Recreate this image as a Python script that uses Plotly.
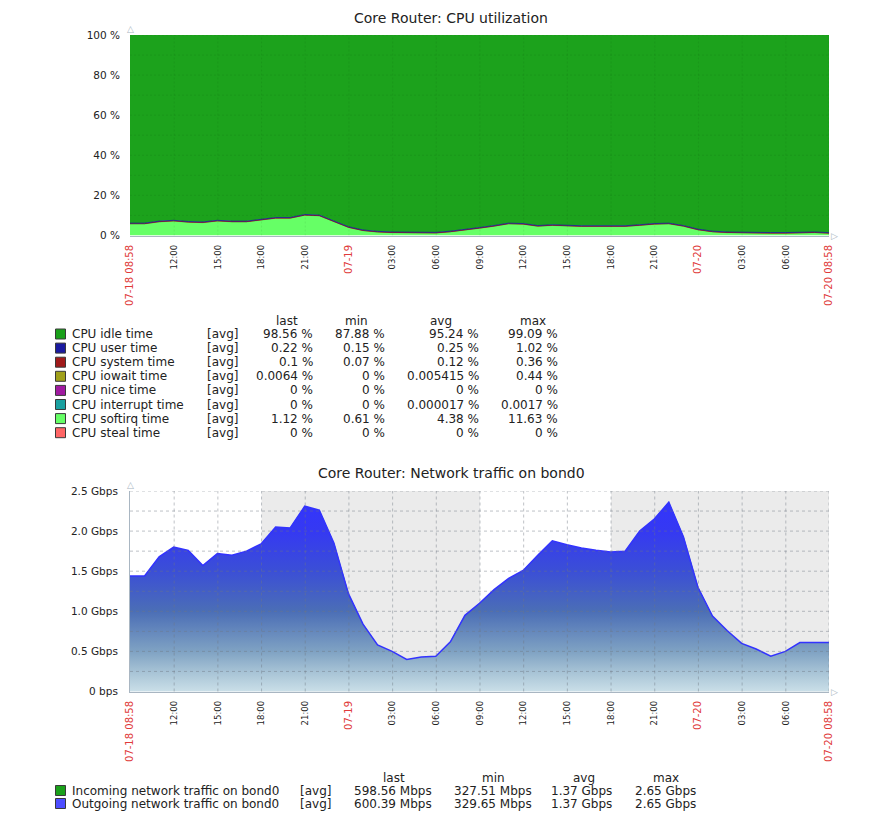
"""
Zabbix-style dashboard: Core Router CPU utilization and bond0 traffic
"""

import pandas as pd
import plotly.graph_objects as go

W, H = 891, 831
FONT = "DejaVu Sans"
TEXT = "#222222"

# hourly averages, 07-18 08:58 .. 07-20 08:58
times = pd.date_range("2024-07-18 08:58", periods=49, freq="h")

# CPU utilization (%)
cpu_softirq = [5.8, 5.8, 6.8, 7.2, 6.6, 6.4, 7.2, 6.8, 6.8, 7.6,
               8.6, 8.6, 10.1, 9.8, 6.8, 4.0, 2.4, 1.7, 1.4, 1.3,
               1.2, 1.2, 1.8, 2.6, 3.6, 4.6, 5.8, 5.6, 4.6, 5.0,
               4.6, 4.5, 4.5, 4.5, 4.5, 5.0, 5.6, 5.8, 4.6, 2.8,
               1.8, 1.4, 1.2, 1.1, 1.1, 1.1, 1.4, 1.4, 1.1]
cpu_system = [0.12, 0.12, 0.12, 0.12, 0.12, 0.12, 0.12, 0.12, 0.12, 0.12,
              0.12, 0.12, 0.12, 0.12, 0.12, 0.12, 0.12, 0.12, 0.12, 0.12,
              0.12, 0.12, 0.12, 0.12, 0.12, 0.12, 0.12, 0.12, 0.12, 0.12,
              0.12, 0.12, 0.12, 0.12, 0.12, 0.12, 0.12, 0.12, 0.12, 0.12,
              0.12, 0.12, 0.12, 0.12, 0.12, 0.12, 0.12, 0.12, 0.10]
cpu_user = [0.25, 0.25, 0.25, 0.25, 0.25, 0.25, 0.25, 0.25, 0.25, 0.25,
            0.25, 0.25, 0.25, 0.25, 0.25, 0.25, 0.25, 0.25, 0.25, 0.25,
            0.25, 0.25, 0.25, 0.25, 0.25, 0.25, 0.25, 0.25, 0.25, 0.25,
            0.25, 0.25, 0.25, 0.25, 0.25, 0.25, 0.25, 0.25, 0.25, 0.25,
            0.25, 0.25, 0.25, 0.25, 0.25, 0.25, 0.25, 0.25, 0.22]
cpu_idle = [93.83, 93.83, 92.83, 92.43, 93.03, 93.23, 92.43, 92.83, 92.83, 92.03,
            91.03, 91.03, 89.53, 89.83, 92.83, 95.63, 97.23, 97.93, 98.23, 98.33,
            98.43, 98.43, 97.83, 97.03, 96.03, 95.03, 93.83, 94.03, 95.03, 94.63,
            95.03, 95.13, 95.13, 95.13, 95.13, 94.63, 94.03, 93.83, 95.03, 96.83,
            97.83, 98.23, 98.43, 98.53, 98.53, 98.53, 98.23, 98.23, 98.58]

# network traffic on bond0 (Gbps)
net_in = [1.43, 1.43, 1.67, 1.79, 1.75, 1.56, 1.71, 1.69, 1.74, 1.83,
          2.04, 2.03, 2.30, 2.25, 1.84, 1.21, 0.83, 0.57, 0.49, 0.39,
          0.42, 0.43, 0.61, 0.94, 1.09, 1.26, 1.40, 1.50, 1.69, 1.87,
          1.82, 1.78, 1.75, 1.73, 1.74, 1.99, 2.14, 2.35, 1.92, 1.29,
          0.93, 0.75, 0.59, 0.52, 0.43, 0.49, 0.60, 0.60, 0.60]
net_out = [1.44, 1.44, 1.68, 1.80, 1.76, 1.57, 1.72, 1.70, 1.75, 1.84,
           2.05, 2.04, 2.31, 2.26, 1.85, 1.22, 0.84, 0.58, 0.50, 0.40,
           0.43, 0.44, 0.62, 0.95, 1.10, 1.27, 1.41, 1.51, 1.70, 1.88,
           1.83, 1.79, 1.76, 1.74, 1.75, 2.00, 2.15, 2.36, 1.93, 1.30,
           0.94, 0.76, 0.60, 0.53, 0.44, 0.50, 0.61, 0.61, 0.61]

tick_times = ["2024-07-18 08:58", "2024-07-18 12:00", "2024-07-18 15:00", "2024-07-18 18:00",
              "2024-07-18 21:00", "2024-07-19 00:00", "2024-07-19 03:00", "2024-07-19 06:00",
              "2024-07-19 09:00", "2024-07-19 12:00", "2024-07-19 15:00", "2024-07-19 18:00",
              "2024-07-19 21:00", "2024-07-20 00:00", "2024-07-20 03:00", "2024-07-20 06:00",
              "2024-07-20 08:58"]
tick_labels = ["07-18 08:58", "12:00", "15:00", "18:00", "21:00", "07-19", "03:00", "06:00",
               "09:00", "12:00", "15:00", "18:00", "21:00", "07-20", "03:00", "06:00",
               "07-20 08:58"]

cpu_ticks = [0, 20, 40, 60, 80, 100]
cpu_grid = [10, 20, 30, 40, 50, 60, 70, 80, 90, 100]
net_ticks = [0, 0.5, 1.0, 1.5, 2.0, 2.5]
net_tick_labels = ["0 bps", "0.5 Gbps", "1.0 Gbps", "1.5 Gbps", "2.0 Gbps", "2.5 Gbps"]
net_grid = [0.25, 0.5, 0.75, 1.0, 1.25, 1.5, 1.75, 2.0, 2.25, 2.5]

off_hours = [("2024-07-18 18:00", "2024-07-19 09:00"), ("2024-07-19 18:00", "2024-07-20 08:58")]

# legend tables
cpu_names = ["CPU idle time", "CPU user time", "CPU system time", "CPU iowait time",
             "CPU nice time", "CPU interrupt time", "CPU softirq time", "CPU steal time"]
cpu_colors = ["#1aa01a", "#1a1aa0", "#a01a1a", "#a0a01a", "#a01aa0", "#1aa0a0", "#66ff66", "#ff6666"]
cpu_last = ["98.56 %", "0.22 %", "0.1 %", "0.0064 %", "0 %", "0 %", "1.12 %", "0 %"]
cpu_min = ["87.88 %", "0.15 %", "0.07 %", "0 %", "0 %", "0 %", "0.61 %", "0 %"]
cpu_avg = ["95.24 %", "0.25 %", "0.12 %", "0.005415 %", "0 %", "0.000017 %", "4.38 %", "0 %"]
cpu_max = ["99.09 %", "1.02 %", "0.36 %", "0.44 %", "0 %", "0.0017 %", "11.63 %", "0 %"]

net_names = ["Incoming network traffic on bond0", "Outgoing network traffic on bond0"]
net_colors = ["#1aa01a", "#4d4dff"]
net_last = ["598.56 Mbps", "600.39 Mbps"]
net_min = ["327.51 Mbps", "329.65 Mbps"]
net_avg = ["1.37 Gbps", "1.37 Gbps"]
net_max = ["2.65 Gbps", "2.65 Gbps"]


def px(x):
    return x / W


def py(y):
    return 1 - y / H


def label(x, y, text, anchor="left", size=12, color=TEXT):
    return dict(x=px(x), y=py(y), xref="paper", yref="paper", text=text, showarrow=False,
                xanchor=anchor, yanchor="middle", font=dict(family=FONT, size=size, color=color))


tick_text = [
    f'<span style="color:#e03a3a;font-size:10px">{t}</span>' if t.startswith("07-") else t
    for t in tick_labels
]

fig = go.Figure()

# CPU stacked areas
fig.add_trace(go.Scatter(x=times, y=cpu_softirq, stackgroup="cpu", mode="lines",
                         line=dict(width=0.5, color="#2a9a2a"), fillcolor="#66ff66", xaxis="x", yaxis="y"))
fig.add_trace(go.Scatter(x=times, y=cpu_system, stackgroup="cpu", mode="lines",
                         line=dict(width=1, color="#a01a1a"), fillcolor="#a01a1a", xaxis="x", yaxis="y"))
fig.add_trace(go.Scatter(x=times, y=cpu_user, stackgroup="cpu", mode="lines",
                         line=dict(width=0.8, color="#1a1aa0"), fillcolor="#1a1aa0", xaxis="x", yaxis="y"))
fig.add_trace(go.Scatter(x=times, y=cpu_idle, stackgroup="cpu", mode="lines",
                         line=dict(width=0), fillcolor="#1ca21c", xaxis="x", yaxis="y"))

# traffic gradient areas
gradient = dict(type="vertical", start=0, stop=2.5,
                colorscale=[[0, "#cadfe8"], [0.1, "#a6c2d5"], [0.2, "#7fa2c3"], [0.4, "#4b6eb6"],
                            [0.6, "#3b4fd6"], [0.8, "#3539f2"], [1, "#3333ff"]])
fig.add_trace(go.Scatter(x=times, y=net_in, fill="tozeroy", mode="lines",
                         line=dict(width=1.2, color="#1aa01a"), fillgradient=gradient,
                         xaxis="x2", yaxis="y2"))
fig.add_trace(go.Scatter(x=times, y=net_out, fill="tozeroy", mode="lines",
                         line=dict(width=1.5, color="#3333ff"), fillgradient=gradient,
                         xaxis="x2", yaxis="y2"))

shapes = []
# off-hours shading on traffic chart
for x0, x1 in off_hours:
    shapes.append(dict(type="rect", xref="x2", yref="y2 domain", x0=x0, x1=x1, y0=0, y1=1,
                       fillcolor="#ebebeb", line=dict(width=0), layer="below"))

# grids drawn over the areas
for t in tick_times[1:]:
    shapes.append(dict(type="line", xref="x", yref="y domain", x0=t, x1=t, y0=0, y1=1,
                       line=dict(color="rgba(0,40,0,0.08)", width=1, dash="2px,2px"), layer="above"))
    shapes.append(dict(type="line", xref="x2", yref="y2 domain", x0=t, x1=t, y0=0, y1=1,
                       line=dict(color="rgba(110,120,130,0.45)", width=1, dash="3px,3px"), layer="above"))
for v in cpu_grid:
    shapes.append(dict(type="line", xref="x domain", yref="y", x0=0, x1=1, y0=v, y1=v,
                       line=dict(color="rgba(0,40,0,0.08)", width=1, dash="2px,2px"), layer="above"))
for v in net_grid:
    shapes.append(dict(type="line", xref="x2 domain", yref="y2", x0=0, x1=1, y0=v, y1=v,
                       line=dict(color="rgba(110,120,130,0.45)", width=1, dash="3px,3px"), layer="above"))

annotations = [
    label(451, 18, "Core Router: CPU utilization", "center", 14),
    label(451, 473, "Core Router: Network traffic on bond0", "center", 14),
    label(130.5, 29, "△", "center", 9, "#a9b6c2"),
    label(834, 235.5, "▷", "center", 9, "#a9b6c2"),
    label(130.5, 485, "△", "center", 9, "#a9b6c2"),
    label(834, 691.5, "▷", "center", 9, "#a9b6c2"),
]

# CPU legend table
cpu_cols = [315, 386.5, 481, 559.5]
cpu_heads = [287, 356, 441, 533]
for hx, head in zip(cpu_heads, ["last", "min", "avg", "max"]):
    annotations.append(label(hx, 321, head, "center"))
for i, name in enumerate(cpu_names):
    ry = 334 + 14.1 * i
    shapes.append(dict(type="rect", xref="paper", yref="paper", x0=px(55.5), x1=px(65.5),
                       y0=py(ry + 5), y1=py(ry - 5), fillcolor=cpu_colors[i],
                       line=dict(color="#3a3a3a", width=1)))
    annotations.append(label(70, ry, name))
    annotations.append(label(205, ry, "[avg]"))
    for cx, val in zip(cpu_cols, [cpu_last[i], cpu_min[i], cpu_avg[i], cpu_max[i]]):
        annotations.append(label(cx, ry, val, "right"))

# traffic legend table
net_cols = [434, 534, 614, 698]
net_heads = [394, 493, 584, 666]
for hx, head in zip(net_heads, ["last", "min", "avg", "max"]):
    annotations.append(label(hx, 777.5, head, "center"))
for i, name in enumerate(net_names):
    ry = 790.5 + 13 * i
    shapes.append(dict(type="rect", xref="paper", yref="paper", x0=px(55.5), x1=px(65.5),
                       y0=py(ry + 5), y1=py(ry - 5), fillcolor=net_colors[i],
                       line=dict(color="#3a3a3a", width=1)))
    annotations.append(label(70, ry, name))
    annotations.append(label(298, ry, "[avg]"))
    for cx, val in zip(net_cols, [net_last[i], net_min[i], net_avg[i], net_max[i]]):
        annotations.append(label(cx, ry, val, "right"))

xcommon = dict(type="date", range=[tick_times[0], tick_times[-1]], tickvals=tick_times, ticktext=tick_text,
               tickangle=-90, tickfont=dict(family=FONT, size=8.5, color=TEXT), showgrid=False,
               zeroline=False, showline=True, linecolor="#a9b6c2", linewidth=1, ticks="",
               ticklabelstandoff=5, automargin=False, domain=[px(130), px(829)])
ycommon = dict(showgrid=False, zeroline=False, ticks="", ticklabelstandoff=9, automargin=False,
               tickfont=dict(family=FONT, size=10.5, color=TEXT), linecolor="#a9b6c2", linewidth=1)

fig.update_layout(
    width=W,
    height=H,
    margin=dict(l=0, r=0, t=0, b=0),
    paper_bgcolor="white",
    plot_bgcolor="white",
    showlegend=False,
    xaxis=dict(xcommon, anchor="y"),
    yaxis=dict(ycommon, anchor="x", range=[0, 100], tickvals=cpu_ticks,
               ticktext=[f"{v} %" for v in cpu_ticks], showline=False,
               domain=[py(235.5), py(35)]),
    xaxis2=dict(xcommon, anchor="y2"),
    yaxis2=dict(ycommon, anchor="x2", range=[0, 2.5], tickvals=net_ticks, ticktext=net_tick_labels,
                showline=True, domain=[py(691.5), py(491)]),
    shapes=shapes,
    annotations=annotations,
)

fig.write_html(
    "out.html",
    config={"displayModeBar": False, "staticPlot": True},
    post_script="document.body.style.margin='0';document.body.style.overflow='hidden';",
)
